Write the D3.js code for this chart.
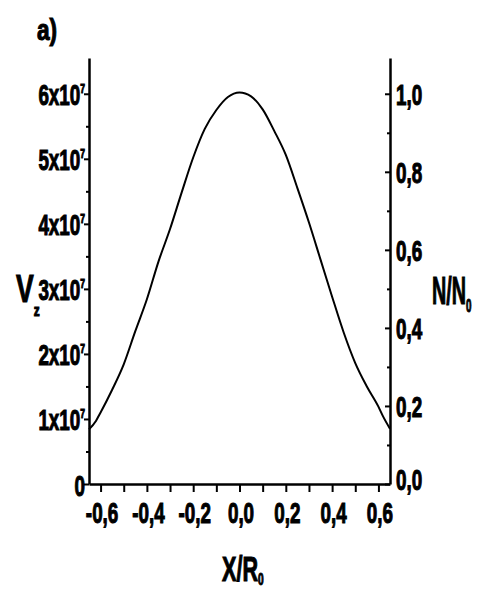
<!DOCTYPE html>
<html>
<head>
<meta charset="utf-8">
<script src="https://cdn.jsdelivr.net/npm/d3@7"></script>
<style>
  body { margin: 0; background: #fff; }
  svg { display: block; }
  text { font-family: "Liberation Sans", Arial, sans-serif; font-weight: bold; fill: #000; stroke: #000; stroke-width: 1.1px; }
</style>
</head>
<body>
<div id="root"></div>
<script>
const width = 482,
      height = 589

// profile: X/R0 and Vz (units of 1e7)
const xr = [-0.65, -0.62, -0.60, -0.55, -0.50, -0.45, -0.40, -0.35, -0.30, -0.25, -0.20, -0.15, -0.10, -0.05,
            0.00, 0.05, 0.10, 0.15, 0.20, 0.25, 0.30, 0.35, 0.40, 0.45, 0.50, 0.55, 0.60, 0.62, 0.65]
const vz = [0.84, 0.97, 1.10, 1.45, 1.84, 2.35, 2.84, 3.42, 3.92, 4.48, 5.02, 5.46, 5.75, 5.95,
            6.02, 5.96, 5.76, 5.43, 5.06, 4.55, 4.02, 3.45, 2.88, 2.33, 1.86, 1.50, 1.19, 1.04, 0.85]

const xTicks = [-0.6, -0.4, -0.2, 0.0, 0.2, 0.4, 0.6]
const xMinor = [-0.5, -0.3, -0.1, 0.1, 0.3, 0.5]
const vTicks = [0, 1, 2, 3, 4, 5, 6]
const vMinor = [0.5, 1.5, 2.5, 3.5, 4.5, 5.5]
const nTicks = [0.0, 0.2, 0.4, 0.6, 0.8, 1.0]
const nMinor = [0.1, 0.3, 0.5, 0.7, 0.9]

const vMax = 6.55   // top of the axes, in 1e7
const vNorm = 6.0   // Vz that corresponds to N/N0 = 1
const sx = 0.65     // the scan uses a very narrow bold face

const svg = d3.select('#root')
    .append('svg')
    .attr('width', width)
    .attr('height', height)

const x = d3.scaleLinear().domain([-0.65, 0.65]).range([89, 390])
const y = d3.scaleLinear().domain([0, vMax]).range([484, 58])
const yR = d3.scaleLinear().domain([0, vMax / vNorm]).range([484, 58])

const comma = d => d3.format('.1f')(d).replace('.', ',').replace('−', '-')

// narrow text: scaled horizontally around its anchor point
function label(parent, px, py, size, scale, anchor) {
    return parent.append('text')
        .attr('transform', `translate(${px},${py}) scale(${scale},1)`)
        .attr('font-size', size)
        .attr('text-anchor', anchor || 'start')
}

function styleAxis(g) {
    g.selectAll('path.domain').attr('stroke', '#000').attr('stroke-width', 2.5)
    g.selectAll('.tick line').attr('stroke', '#000').attr('stroke-width', 2)
}

// bottom axis
const gx = svg.append('g')
    .attr('transform', `translate(0,${y(0)})`)
    .call(d3.axisBottom(x).tickValues(xTicks).tickFormat('').tickSize(8).tickSizeOuter(0))
gx.call(styleAxis)
gx.selectAll('.tick').each(function(d) {
    label(d3.select(this), 1, 39, 29, sx, 'middle').text(comma(d))
})
svg.append('g')
    .attr('transform', `translate(0,${y(0)})`)
    .call(d3.axisBottom(x).tickValues(xMinor).tickFormat('').tickSize(8).tickSizeOuter(0))
    .call(styleAxis)
    .select('path.domain').remove()

// left axis
const gy = svg.append('g')
    .attr('transform', `translate(${x(-0.65)},0)`)
    .call(d3.axisLeft(y).tickValues(vTicks).tickFormat('').tickSize(5).tickSizeOuter(0))
gy.call(styleAxis)
svg.append('g')
    .attr('transform', `translate(${x(-0.65)},0)`)
    .call(d3.axisLeft(y).tickValues(vMinor).tickFormat('').tickSize(3).tickSizeOuter(0))
    .call(styleAxis)
    .select('path.domain').remove()

gy.selectAll('.tick').each(function(d) {
    const t = label(d3.select(this), -4, 11, 29, sx, 'end')
    if (d === 0) {
        t.text('0')
    } else {
        t.append('tspan').text(d + 'x10')
        t.append('tspan').attr('font-size', 13).attr('dy', -12).text('7')
    }
})

// right axis
const gr = svg.append('g')
    .attr('transform', `translate(${x(0.65)},0)`)
    .call(d3.axisLeft(yR).tickValues(nTicks).tickFormat('').tickSize(5).tickSizeOuter(0))
gr.call(styleAxis)
svg.append('g')
    .attr('transform', `translate(${x(0.65)},0)`)
    .call(d3.axisLeft(yR).tickValues(nMinor).tickFormat('').tickSize(3).tickSizeOuter(0))
    .call(styleAxis)
    .select('path.domain').remove()
gr.selectAll('.tick').each(function(d) {
    label(d3.select(this), 6, d === 0 ? 5 : 11, 29, sx, 'start').text(comma(d))
})

// curve
const data = xr.map((d, i) => ({ x: d, v: vz[i] }))
svg.append('path')
    .datum(data)
    .attr('fill', 'none')
    .attr('stroke', '#000')
    .attr('stroke-width', 2)
    .attr('d', d3.line().x(d => x(d.x)).y(d => y(d.v)).curve(d3.curveMonotoneX))

// titles
label(svg, 37, 40, 29, 0.78).text('a)')

const vl = label(svg, 16, 302, 38, 0.7)
vl.append('tspan').text('V')
vl.append('tspan').attr('font-size', 17).attr('dy', 14).text('z')

const nl = label(svg, 432, 304, 38, 0.52)
nl.append('tspan').text('N/N')
nl.append('tspan').attr('font-size', 19).attr('dy', 8).text('0')

const xl = label(svg, 222, 581, 36, 0.6)
xl.append('tspan').text('X/R')
xl.append('tspan').attr('font-size', 17).attr('dy', 4).text('0')
</script>
</body>
</html>
